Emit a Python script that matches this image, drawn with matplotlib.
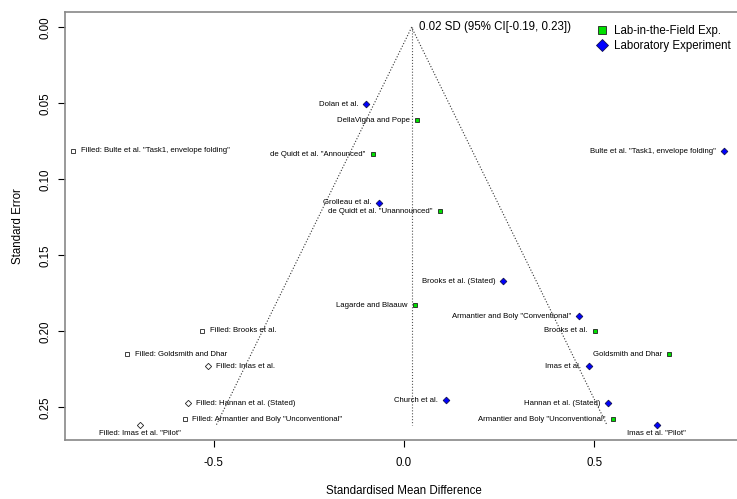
import matplotlib.pyplot as plt
from matplotlib.lines import Line2D

plt.rcParams["font.family"] = ["Liberation Sans", "DejaVu Sans"]

# observed studies
STUDIES = [
    "Dolan et al.", "DellaVigna and Pope", 'de Quidt et al. "Announced"',
    'Bulte et al. "Task1, envelope folding"', "Grolleau et al.",
    'de Quidt et al. "Unannounced"', "Brooks et al. (Stated)", "Lagarde and Blaauw",
    'Armantier and Boly "Conventional"', "Brooks et al.", "Goldsmith and Dhar",
    "Imas et al.", "Church et al.", "Hannan et al. (Stated)",
    'Armantier and Boly "Unconventional"', 'Imas et al. "Pilot"',
]
SMD = [-0.099, 0.035, -0.081, 0.840, -0.066, 0.094, 0.260, 0.030,
       0.459, 0.501, 0.697, 0.485, 0.109, 0.536, 0.548, 0.663]
SE = [0.0507, 0.0612, 0.0834, 0.0816, 0.1154, 0.1209, 0.1669, 0.1827,
      0.1900, 0.1996, 0.2151, 0.2230, 0.2454, 0.2474, 0.2577, 0.2614]
DESIGN = ["lab", "field", "field", "lab", "lab", "field", "lab", "field",
          "lab", "field", "field", "lab", "lab", "lab", "field", "lab"]

# trim-and-fill imputed studies
FILLED = [
    'Filled: Bulte et al. "Task1, envelope folding"', "Filled: Brooks et al.",
    "Filled: Goldsmith and Dhar", "Filled: Imas et al.", "Filled: Hannan et al. (Stated)",
    'Filled: Armantier and Boly "Unconventional"', 'Filled: Imas et al. "Pilot"',
]
FILLED_SMD = [-0.869, -0.530, -0.727, -0.514, -0.566, -0.576, -0.692]
FILLED_SE = [0.0812, 0.1996, 0.2151, 0.2230, 0.2474, 0.2577, 0.2614]
FILLED_SHAPE = ["s", "s", "s", "D", "D", "s", "D"]

EST = 0.02
EST_LABEL = "0.02 SD (95% CI[-0.19, 0.23])"
BELOW = {'Imas et al. "Pilot"', 'Filled: Imas et al. "Pilot"'}

STYLE = {
    "field": dict(marker="s", ms=3.3, mfc="#00e000", mec="#202020"),
    "lab": dict(marker="D", ms=3.4, mfc="#0000ff", mec="#101050"),
}

fig = plt.figure(figsize=(7.37, 4.99), dpi=100)
ax = fig.add_axes([65 / 737, 1 - 440 / 499, 678 / 737, 428 / 499])

# funnel
se_max = max(SE)
ax.plot([EST - 1.96 * se_max, EST, EST + 1.96 * se_max], [se_max, 0, se_max],
        ls=":", lw=0.8, color="#333333")
ax.plot([EST, EST], [0, se_max], ls=":", lw=0.8, color="#555555")
ax.annotate(EST_LABEL, (EST, 0), xytext=(5, 0), textcoords="offset points",
            ha="left", va="center", fontsize=8.3)

fs = 5.6
for name, x, y, d in zip(STUDIES, SMD, SE, DESIGN):
    ax.plot(x, y, ls="none", mew=0.6, **STYLE[d])
    if name in BELOW:
        ax.annotate(name, (x, y), xytext=(0, -6.5), textcoords="offset points",
                    ha="center", va="center", fontsize=fs)
    else:
        ax.annotate(name, (x, y), xytext=(-5.5, 0), textcoords="offset points",
                    ha="right", va="center", fontsize=fs)

for name, x, y, m in zip(FILLED, FILLED_SMD, FILLED_SE, FILLED_SHAPE):
    ax.plot(x, y, ls="none", marker=m, ms=3.0 if m == "s" else 3.2,
            mfc="white", mec="#222222", mew=0.6)
    if name in BELOW:
        ax.annotate(name, (x, y), xytext=(0, -6.5), textcoords="offset points",
                    ha="center", va="center", fontsize=fs)
    else:
        ax.annotate(name, (x, y), xytext=(5.5, 0), textcoords="offset points",
                    ha="left", va="center", fontsize=fs)

ax.set_xlim(-0.89, 0.89)
ax.set_ylim(0.2715, -0.0101)
ax.set_xticks([-0.5, 0.0, 0.5])
ax.set_xticklabels(["-0.5", "0.0", "0.5"])
ax.set_yticks([0.0, 0.05, 0.10, 0.15, 0.20, 0.25])
ax.set_yticklabels(["0.00", "0.05", "0.10", "0.15", "0.20", "0.25"])
ax.tick_params(direction="out", length=5, width=0.8, labelsize=8.3, pad=5)
ax.tick_params(axis="x", pad=7)
ax.tick_params(axis="y", labelrotation=90)
for lab in ax.get_yticklabels():
    lab.set_va("center")
ax.spines["right"].set_visible(False)
for s in ["left", "top", "bottom"]:
    ax.spines[s].set_color("#888888")
    ax.spines[s].set_linewidth(1.2)

ax.set_xlabel("Standardised Mean Difference", fontsize=8.3, labelpad=12)
ax.set_ylabel("Standard Error", fontsize=8.3, labelpad=10.6)

handles = [
    Line2D([], [], ls="none", marker="s", ms=5.2, mfc="#00e000", mec="#202020", mew=0.6),
    Line2D([], [], ls="none", marker="D", ms=6.2, mfc="#0000ff", mec="#101050", mew=0.6),
]
ax.legend(handles, ["Lab-in-the-Field Exp.", "Laboratory Experiment"],
          loc="upper left", bbox_to_anchor=(596 / 737, 1 - 25 / 499),
          bbox_transform=fig.transFigure, frameon=False, fontsize=8.3,
          handlelength=1.0, handletextpad=0.6, labelspacing=0.28,
          borderpad=0, borderaxespad=0)

fig.savefig("out.png", dpi=100)
